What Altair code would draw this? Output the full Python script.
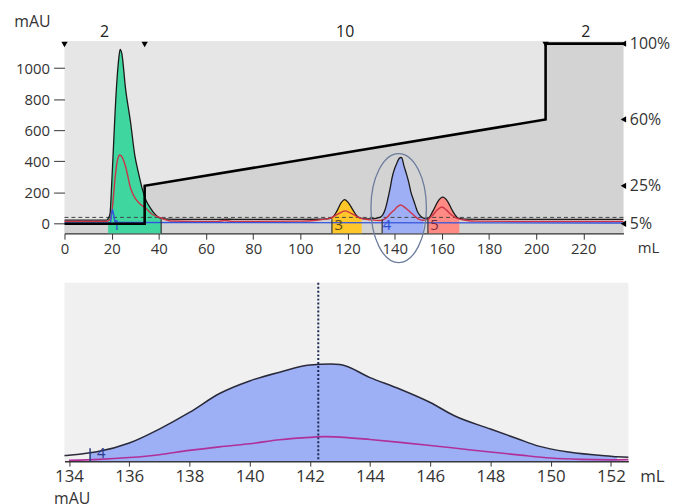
import altair as alt
import pandas as pd

# ---------------- data ----------------
# UV trace (mAU) vs volume (mL)
uv_ml = [0, 10, 18, 18.5, 19.3, 20.0, 20.6, 22.0, 23.0, 23.6, 24.3, 25.9, 28.0, 29.8,
         31.3, 32.9, 34.5, 36.4, 38.0, 39.9, 41.0, 44, 50, 60, 70, 80, 90, 100, 108,
         111, 113.4, 115.5, 117.2, 118.8, 120.5, 122.6, 124.5, 126, 128, 131, 133,
         134, 134.7, 135, 136, 137, 138, 139, 140, 141, 142, 142.7, 143, 144, 145,
         146, 146.8, 148, 148.9, 149.6, 150.6, 152, 152.2, 153.4, 154.1, 156.2, 158.3,
         160.4, 162.5, 164.6, 166.5, 167.4, 170, 180, 200, 220, 237]
uv_mau = [20, 20, 21, 30, 60, 250, 440, 866, 1060, 1121, 1095, 866, 653, 440,
          330, 227, 150, 100, 65, 38, 32, 27, 25, 25, 26, 25, 25, 25, 26,
          28, 35, 78, 130, 153, 130, 78, 40, 32, 28, 30, 35,
          40, 50, 56, 91, 150, 220, 300, 353, 390, 420, 424, 422, 367, 318,
          262, 206, 150, 109, 78, 53, 35, 33, 30, 30, 78, 140,
          168, 140, 78, 38, 32, 27, 25, 25, 25, 25]

# second (red / magenta) trace
red_ml = [0, 18, 19.5, 20.3, 21.5, 22.5, 23.5, 24.5, 26, 28, 30, 32, 34.3, 37, 40.6,
          45, 55, 65, 68, 71, 100, 106, 110, 113, 116, 119, 122, 126, 130, 134, 135,
          136, 137, 138, 139, 140, 141, 142, 142.5, 143, 144, 145, 146, 147, 148, 149,
          150, 151, 152, 153, 154, 156, 158, 160, 162, 164, 166, 170, 175, 190, 237]
red_mau = [12, 12, 30, 100, 300, 410, 440, 425, 360, 227, 160, 125, 100, 60, 36,
           15, 12, 12, 18, 12, 14, 18, 25, 35, 60, 80, 60, 30, 22, 18, 22,
           30, 42, 60, 75, 88, 105, 115, 118, 116, 106, 94, 81, 67, 53, 40,
           28, 22, 20, 22, 25, 50, 85, 105, 85, 55, 35, 20, 14, 12, 12]

# third (blue) trace
blue_ml = [0, 19.5, 19.9, 20.3, 20.8, 21.6, 237]
blue_mau = [2, 3, 50, 89, 60, 5, 2]

# gradient (% B)
grad_ml = [0, 34, 34, 204, 204, 237]
grad_pct = [5, 5, 25, 60, 100, 100]
grad_ticks = [5, 25, 60, 100]

# block markers and their lengths
block_ml = [0, 34, 204]
block_mid_ml = [17, 119, 221]
block_text = ["2", "10", "2"]

# fractions
frac_label = ["1", "3", "4", "5"]
frac_start = [18.5, 113.4, 134.7, 154.1]
frac_end = [41.0, 126.0, 152.2, 167.4]
frac_text_ml = [22.1, 116.3, 136.8, 156.9]
frac_bar_ml = [41.0, 113.4, 134.7, 154.1]
frac_fill = ["#3fd6a0", "#ffc72a", "#9eaff6", "#ff8b84"]
frac_ink = ["#2c4fd0", "#5e4a14", "#2c4fd0", "#7c2b3c"]

pool_level = [38]
peak_ml = [142.28]
ring_ml = [141.7]
ring_mau = [98]

# zoom panel fraction label
zoom_frac_ml = [134.7]
zoom_frac_text_ml = [134.93]
zoom_frac_text = ["4"]

# ---------------- layout ----------------
FONT = "Open Sans"
INK = "#333333"
TW, TH = 564, 194
BW, BH = 569, 180
X_TOP = [0, 237]
Y_TOP = [-64, 1175]
P_TOP = [0, 101.4]
X_BOT = [133.85, 152.58]
Y_BOT = [14.6, 767]

uv = pd.DataFrame({"ml": uv_ml, "mau": uv_mau})
red = pd.DataFrame({"ml": red_ml, "mau": red_mau})
blue = pd.DataFrame({"ml": blue_ml, "mau": blue_mau})
grad = pd.DataFrame({"ml": grad_ml, "pct": grad_pct, "i": list(range(len(grad_ml)))})

x_top = alt.X("ml:Q", scale=alt.Scale(domain=X_TOP, nice=False, zero=False),
              axis=alt.Axis(values=list(range(0, 221, 20)), tickSize=6, labelPadding=2,
                            labelFontSize=15, labelFlush=False, domainWidth=1.5, title="mL",
                            titleX=588.7, titleY=14.7, titleAlign="center",
                            titleBaseline="middle", titleFontSize=15))


def ym(axis=None):
    return alt.Y("mau:Q", scale=alt.Scale(domain=Y_TOP, nice=False, zero=False),
                 axis=axis, stack=None)


def yp(axis=None):
    return alt.Y("pct:Q", scale=alt.Scale(domain=P_TOP, nice=False, zero=False),
                 axis=axis, stack=None)


left_axis = alt.Axis(values=[0, 200, 400, 600, 800, 1000], format="d", tickSize=11,
                     labelPadding=4, domain=False, labelFontSize=15, labelFlush=False,
                     title="mAU", titleAngle=0, titleX=-32.8, titleY=-19.3,
                     titleAlign="center", titleBaseline="middle", titleFontSize=16)
right_axis = alt.Axis(orient="right", values=grad_ticks, labelExpr="datum.value + '%'",
                      ticks=False, tickSize=0, domain=False, labelPadding=6,
                      labelFontSize=16, labelFlush=False, title=None)

layers = []
# darker area below the gradient
layers.append(alt.Chart(grad).mark_area(color="#d3d3d3", interpolate="linear").encode(
    x=x_top, y=yp(), y2=alt.value(TH)))
# fraction fills
for lab, s, e, c in zip(frac_label, frac_start, frac_end, frac_fill):
    sub = uv[(uv.ml >= s) & (uv.ml <= e)]
    layers.append(alt.Chart(sub).mark_area(color=c, interpolate="monotone").encode(
        x=x_top, y=ym(), y2=alt.value(TH)))
# pooling / watch level
layers.append(alt.Chart(pd.DataFrame({"mau": pool_level})).mark_rule(
    color="#444", strokeDash=[4, 3], strokeWidth=1).encode(y=ym()))
# traces
layers.append(alt.Chart(uv).mark_line(color="#1a1a1a", strokeWidth=1.3, interpolate="monotone").encode(
    x=x_top, y=ym(left_axis)))
layers.append(alt.Chart(red).mark_line(color="#cc3347", strokeWidth=1.4, interpolate="monotone").encode(
    x=x_top, y=ym()))
layers.append(alt.Chart(blue).mark_line(color="#3355dd", strokeWidth=1.4, interpolate="monotone").encode(
    x=x_top, y=ym()))
# fraction bars
layers.append(alt.Chart(pd.DataFrame({"ml": frac_bar_ml})).mark_rule(color="#333", strokeWidth=1.2).encode(
    x=x_top, y=alt.value(TH - 14), y2=alt.value(TH)))
# fraction labels
for lab, xm, ink in zip(frac_label, frac_text_ml, frac_ink):
    layers.append(alt.Chart(pd.DataFrame({"ml": [xm], "t": [lab]})).mark_text(
        fontSize=15, font=FONT, color=ink, baseline="middle").encode(
        x=x_top, y=alt.value(TH - 8.5), text="t:N"))
# gradient line
layers.append(alt.Chart(grad).mark_line(color="#000", strokeWidth=2.6).encode(
    x=x_top, y=yp(), order="i:Q"))
# block markers at top
layers.append(alt.Chart(pd.DataFrame({"ml": block_ml})).mark_point(
    shape="triangle-down", filled=True, size=40, color="#000", opacity=1).encode(
    x=x_top, y=alt.value(3.5)))
# gradient markers at right (carry right axis)
layers.append(alt.Chart(pd.DataFrame({"pct": grad_ticks})).mark_point(
    shape="triangle-left", filled=True, size=40, color="#000", opacity=1).encode(
    x=alt.value(TW), y=yp(right_axis)))
# block lengths
layers.append(alt.Chart(pd.DataFrame({"ml": block_mid_ml, "t": block_text})).mark_text(
    fontSize=16, font=FONT, color="#222", baseline="middle").encode(
    x=x_top, y=alt.value(-9.3), text="t:N"))
# highlight ring around peak 4
ring_path = ("M0,-1C0.2811,-1,0.509,-0.5523,0.509,0C0.509,0.5523,0.2811,1,0,1"
             "C-0.2811,1,-0.509,0.5523,-0.509,0C-0.509,-0.5523,-0.2811,-1,0,-1Z")
layers.append(alt.Chart(pd.DataFrame({"ml": ring_ml, "mau": ring_mau})).mark_point(
    shape=ring_path, size=12100, filled=False, stroke="#6c7c9c", strokeWidth=1.3, opacity=1).encode(
    x=x_top, y=ym()))

top = alt.layer(*layers).resolve_scale(y="independent").properties(
    width=TW, height=TH, view=alt.ViewBackground(fill="#e6e6e6", stroke="transparent"))

# ---------------- zoom panel ----------------
x_bot = alt.X("ml:Q", scale=alt.Scale(domain=X_BOT, nice=False, zero=False),
              axis=alt.Axis(values=list(range(134, 153, 2)), tickSize=5, labelPadding=3,
                            labelFontSize=17, labelFlush=False, domainWidth=1.5, title="mL",
                            titleX=592.7, titleY=15.8, titleAlign="center",
                            titleBaseline="middle", titleFontSize=17))
y_bot_axis = alt.Axis(values=[200, 400, 600], tickSize=9, labelPadding=4, labelFontSize=17,
                      labelFlush=False, domainWidth=1.5, title="mAU", titleAngle=0,
                      titleX=-29.3, titleY=-17.7, titleAlign="center",
                      titleBaseline="middle", titleFontSize=16)


def yb(axis=None):
    return alt.Y("mau:Q", scale=alt.Scale(domain=Y_BOT, nice=False, zero=False),
                 axis=axis, stack=None)


uv_b = uv[(uv.ml >= 131) & (uv.ml <= 156)]
red_b = red[(red.ml >= 131) & (red.ml <= 156)]
fill_b = uv[(uv.ml >= frac_start[2]) & (uv.ml <= frac_end[2])]

blayers = [
    alt.Chart(fill_b).mark_area(color="#9db0f5", interpolate="monotone", clip=True).encode(
        x=x_bot, y=yb(), y2=alt.value(BH)),
    alt.Chart(uv_b).mark_line(color="#2a2a3a", strokeWidth=1.5, interpolate="monotone", clip=True).encode(
        x=x_bot, y=yb(y_bot_axis)),
    alt.Chart(red_b).mark_line(color="#b0309a", strokeWidth=1.6, interpolate="monotone", clip=True).encode(
        x=x_bot, y=yb()),
    alt.Chart(pd.DataFrame({"ml": peak_ml})).mark_rule(
        color="#1c2a55", strokeDash=[2, 2], strokeWidth=2).encode(x=x_bot),
    alt.Chart(pd.DataFrame({"ml": zoom_frac_ml})).mark_rule(color="#2a3a7a", strokeWidth=1.5).encode(
        x=x_bot, y=alt.value(BH - 13), y2=alt.value(BH)),
    alt.Chart(pd.DataFrame({"ml": zoom_frac_text_ml, "t": zoom_frac_text})).mark_text(
        fontSize=15, font=FONT, color="#2a3a8a", align="left", baseline="middle").encode(
        x=x_bot, y=alt.value(BH - 8), text="t:N"),
    alt.Chart(pd.DataFrame({"t": ["mAU"]})).mark_text(
        fontSize=16, font=FONT, color=INK, align="center", baseline="top").encode(
        x=alt.value(7.7), y=alt.value(210), text="t:N"),
]
bottom = alt.layer(*blayers).properties(
    width=BW, height=BH, view=alt.ViewBackground(fill="#f0f0f0", stroke="transparent"))

chart = alt.vconcat(top, bottom, spacing=50, bounds="flush").properties(
    padding={"left": 5, "top": 3, "right": 0, "bottom": 0},
    background="white",
).configure_axis(
    labelFont=FONT, titleFont=FONT, labelColor=INK, titleColor=INK, grid=False,
    tickColor=INK, domainColor=INK, titleFontWeight="normal",
).configure_view(strokeWidth=0)

chart.save("out.html", embed_options={"renderer": "svg", "actions": False})
